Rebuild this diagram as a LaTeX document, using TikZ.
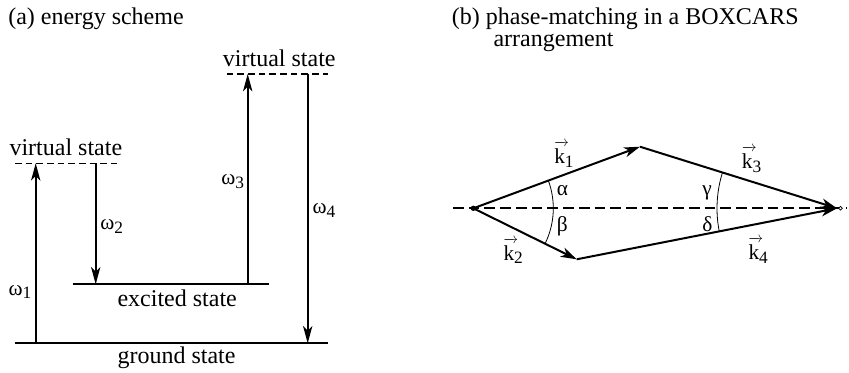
\documentclass[tikz,border=0pt]{standalone}
\usepackage{fontspec}
\setmainfont{Liberation Serif}
\usetikzlibrary{arrows.meta}
\newcommand{\mysb}[1]{\raisebox{-0.4ex}{\fontsize{13}{15}\selectfont #1}}
\newcommand{\veck}{\makebox[0pt][l]{\raisebox{12.5pt}{\fontsize{11}{11}\selectfont\makebox[11pt][l]{\rightarrowfill}}}k}
\begin{document}
\begin{tikzpicture}[x=0.75pt,y=-0.75pt,
  txt/.style={font=\fontsize{18}{20}\selectfont, inner sep=0pt},
  lbl/.style={font=\fontsize{16}{18}\selectfont, inner sep=0pt},
  level/.style={line width=1.6pt},
  virt/.style={line width=1pt, dash pattern=on 5pt off 3pt},
  trans/.style={line width=1.25pt, -{Stealth[length=13pt,width=7pt,inset=3.5pt]}},
  kvec/.style={line width=1.5pt, -{Stealth[length=12pt,width=7.5pt,inset=3.5pt]}},
  axisline/.style={line width=1.4pt, dash pattern=on 8pt off 3.8pt},
  angarc/.style={line width=0.6pt}]
\useasboundingbox (0,0) rectangle (849,372);

% ---------- (a) energy scheme ----------
\node[txt, anchor=base west] (ta) at (8,24) {(a) energy scheme};

\coordinate (g1) at (15,343.3);   \coordinate (g2) at (328.3,343.3);
\coordinate (e1) at (72.7,284.3); \coordinate (e2) at (269.3,284.3);
\coordinate (v1) at (15,163.3);   \coordinate (v2) at (116.7,163.3);
\coordinate (w1) at (226.7,74);   \coordinate (w2) at (328.3,74);

\draw[level] (g1) -- (g2);
\draw[level] (e1) -- (e2);
\draw[virt] (v1) -- (v2);
\draw[virt] (w1) -- (w2);

\node[txt, anchor=base west] (vl) at (9.3,155.7) {virtual state};
\node[txt, anchor=base west] (vr) at (222.7,66.7) {virtual state};
\node[txt, anchor=base west] (ex) at (117.3,306) {excited state};
\node[txt, anchor=base west] (gr) at (117.3,363.3) {ground state};

\coordinate (a1s) at (35.7,343.3);  \coordinate (a1e) at (35.7,163.3);
\coordinate (a2s) at (95.7,163.3);  \coordinate (a2e) at (95.7,284.3);
\coordinate (a3s) at (247.7,284.3); \coordinate (a3e) at (247.7,74);
\coordinate (a4s) at (307.7,74);    \coordinate (a4e) at (307.7,343.3);

\draw[trans] (a1s) -- (a1e);
\draw[trans] (a2s) -- (a2e);
\draw[trans] (a3s) -- (a3e);
\draw[trans] (a4s) -- (a4e);

\node[lbl, anchor=base west] (o1) at (8.3,295) {ω\mysb{1}};
\node[lbl, anchor=base west] (o2) at (100,229.3) {ω\mysb{2}};
\node[lbl, anchor=base west] (o3) at (221,184.3) {ω\mysb{3}};
\node[lbl, anchor=base west] (o4) at (312.3,213.3) {ω\mysb{4}};

% ---------- (b) BOXCARS ----------
\node[txt, anchor=base west] (tb1) at (451.7,24) {(b) phase-matching in a BOXCARS};
\node[txt, anchor=base west] (tb2) at (493.3,46) {arrangement};

\coordinate (AL) at (453,208.3);
\coordinate (AR) at (847,208.3);
\coordinate (O) at (473.3,208.3);
\coordinate (T) at (640,146.7);
\coordinate (B) at (576.7,259.3);
\coordinate (R) at (837,208.3);
\coordinate (C) at (840.5,208.3);

\draw[axisline] (AL) -- (AR);
\draw[kvec] (O) -- (T);
\draw[kvec] (O) -- (B);
\draw[kvec] (T) -- (R);
\draw[kvec] (B) -- (R);
\fill (O) circle[radius=2pt];
\draw[line width=0.5pt, fill=white] (C) circle[radius=1.4pt];

\draw[angarc] (O) ++(-20.3:80) arc[start angle=-20.3, end angle=26.3, radius=80];
\draw[angarc] (R) ++(168.9:120) arc[start angle=168.9, end angle=197.4, radius=120];

\node[lbl, anchor=base west] (k1) at (554,163.3) {\veck\mysb{1}};
\node[lbl, anchor=base west] (k2) at (503.3,260) {\veck\mysb{2}};
\node[lbl, anchor=base west] (k3) at (741.7,168.3) {\veck\mysb{3}};
\node[lbl, anchor=base west] (k4) at (748.3,259.3) {\veck\mysb{4}};

\node[lbl, anchor=base west] (al) at (556.7,195) {α};
\node[lbl, anchor=base west] (be) at (556.7,231) {β};
\node[lbl, anchor=base west] (ga) at (702,195) {γ};
\node[lbl, anchor=base west] (de) at (702,231) {δ};
\end{tikzpicture}
\end{document}
